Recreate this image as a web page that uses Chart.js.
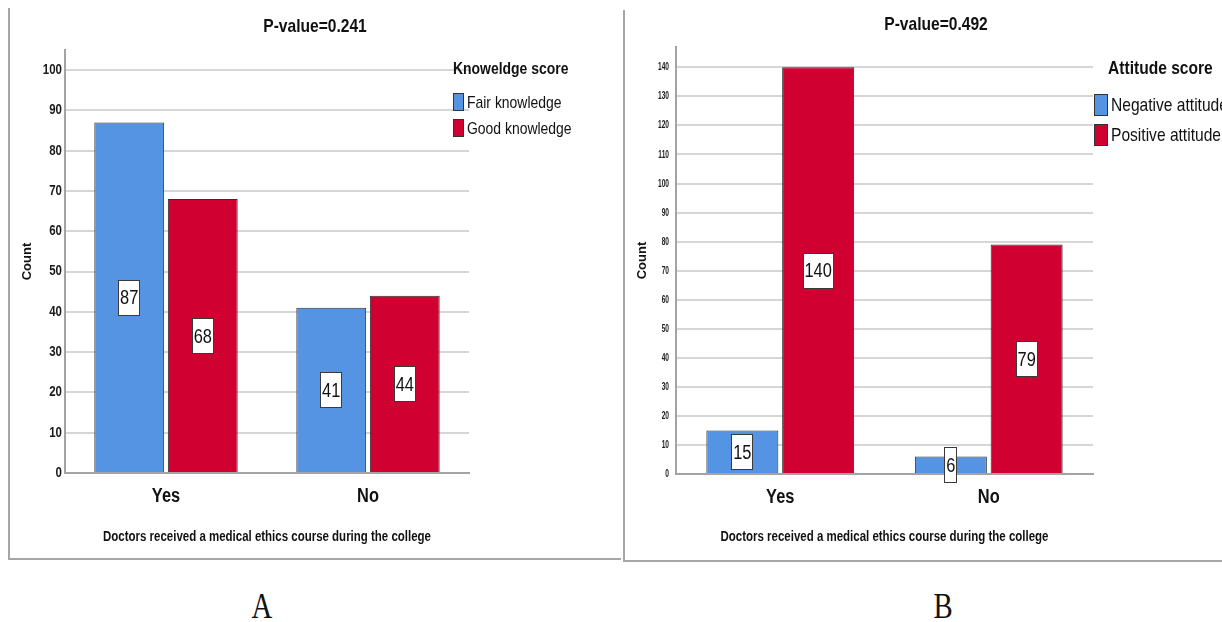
<!DOCTYPE html>
<html>
<head>
<meta charset="utf-8">
<title>Medical ethics course</title>
<script src="https://cdn.jsdelivr.net/npm/chart.js@4.4.1/dist/chart.umd.min.js"></script>
<style>
  body { margin: 0; width: 1222px; height: 622px; background: #fff; position: relative; overflow: hidden; }
  .frame { position: absolute; border-left: 2px solid #a6a6a6; border-bottom: 2px solid #a6a6a6; }
  canvas { position: absolute; }
  .tag { position: absolute; font-family: "Liberation Serif", "Times New Roman", serif; font-size: 36px; line-height: 36px; color: #111; transform: translateX(-50%) scaleX(0.8); }
</style>
</head>
<body>
<div class="frame" style="left:8px;top:8px;width:611px;height:550px"></div>
<div class="frame" style="left:623px;top:10px;width:599px;height:550px"></div>
<canvas id="chartA" width="610" height="556" style="left:10px;top:0"></canvas>
<canvas id="chartB" width="596" height="560" style="left:626px;top:0"></canvas>
<div class="tag" style="left:262px;top:588px">A</div>
<div class="tag" style="left:943px;top:588px">B</div>
<script>
// answers to "did you take a medical ethics course"
const courseAnswers = ["Yes", "No"]

const knowledgeLevels = ["Fair knowledge", "Good knowledge"]
const fairKnowledge = [87, 41]
const goodKnowledge = [68, 44]

const attitudeLevels = ["Negative attitude", "Positive attitude"]
const negativeAttitude = [15, 6]
const positiveAttitude = [140, 79]

// no Arial Narrow here, so "Narrow" text gets squeezed by hand (see squeezeText)
const NARROW = '"Arial Narrow", "Liberation Sans", sans-serif'
const WIDE = 'Arial, "Liberation Sans", sans-serif'
const SQUEEZE = 0.82
const BLUE = '#5593e3'
const RED = '#d00030'
const AXIS = '#a3a3a3'
const GRID = '#d6d6d6'

function squeezeFor(font) {
  if (!/Narrow/.test(font)) return 1
  const size = parseFloat((font.match(/([\d.]+)px/) || [0, 14])[1])
  // the tiny tick digits are even tighter
  return size < 12 ? 0.6 : SQUEEZE
}

function squeezeText(ctx) {
  const fill = ctx.fillText.bind(ctx)
  ctx.fillText = function (text, x, y, maxWidth) {
    const k = squeezeFor(ctx.font)
    if (k === 1) {
      return maxWidth === undefined ? fill(text, x, y) : fill(text, x, y, maxWidth)
    }
    ctx.save()
    ctx.translate(x, y)
    ctx.scale(k, 1)
    if (maxWidth === undefined) fill(text, 0, 0)
    else fill(text, 0, 0, maxWidth / k)
    ctx.restore()
  }
}

// value boxes, chart title and the legend block, SPSS style
const spssExtras = {
  id: 'spssExtras',
  beforeInit(chart) {
    squeezeText(chart.ctx)
  },
  afterDatasetsDraw(chart, args, opts) {
    const ctx = chart.ctx
    const yScale = chart.scales.y
    ctx.save()
    ctx.font = `${opts.valueSize}px ${NARROW}`
    ctx.textAlign = 'center'
    ctx.textBaseline = 'middle'
    const k = squeezeFor(ctx.font)
    chart.data.datasets.forEach((ds, i) => {
      chart.getDatasetMeta(i).data.forEach((bar, j) => {
        const v = ds.data[j]
        const text = String(v)
        const cy = yScale.getPixelForValue(v / 2)
        const w = Math.round(ctx.measureText(text).width * k + 4)
        const h = opts.boxHeight
        const left = Math.round(bar.x - w / 2)
        const top = Math.round(cy - h / 2)
        ctx.fillStyle = '#fff'
        ctx.fillRect(left, top, w, h)
        ctx.strokeStyle = '#3a3a3a'
        ctx.lineWidth = 1
        ctx.strokeRect(left + 0.5, top + 0.5, w - 1, h - 1)
        ctx.fillStyle = '#111'
        ctx.fillText(text, bar.x, cy + 1)
      })
    })
    ctx.restore()
  },
  afterDraw(chart, args, opts) {
    const ctx = chart.ctx
    ctx.save()
    ctx.fillStyle = '#111'
    ctx.textBaseline = 'middle'
    ctx.textAlign = 'center'
    ctx.font = `bold ${opts.titleSize}px ${NARROW}`
    ctx.fillText(opts.title, opts.titleX, opts.titleY)

    ctx.textAlign = 'left'
    ctx.font = `bold ${opts.legendTitleSize}px ${NARROW}`
    ctx.fillText(opts.legendTitle, opts.legendTitleX, opts.legendTitleY)
    chart.data.datasets.forEach((ds, i) => {
      const by = opts.legendY + i * opts.legendGap
      ctx.fillStyle = ds.backgroundColor
      ctx.fillRect(opts.legendX, by, opts.legendBoxW, opts.legendBoxH)
      ctx.strokeStyle = '#333'
      ctx.lineWidth = 1
      ctx.strokeRect(opts.legendX + 0.5, by + 0.5, opts.legendBoxW - 1, opts.legendBoxH - 1)
      ctx.fillStyle = '#111'
      ctx.font = `${opts.legendSize}px ${NARROW}`
      ctx.fillText(ds.label, opts.legendX + opts.legendBoxW + 3, by + opts.legendBoxH / 2 + 1)
    })
    ctx.restore()
  }
}

function buildChart(id, names, first, second, s) {
  new Chart(document.getElementById(id), {
    type: 'bar',
    data: {
      labels: courseAnswers,
      datasets: [
        { label: names[0], data: first, backgroundColor: BLUE },
        { label: names[1], data: second, backgroundColor: RED }
      ]
    },
    options: {
      responsive: false,
      animation: false,
      layout: { padding: { left: 0, right: s.padRight, top: s.padTop, bottom: 0 } },
      datasets: {
        bar: {
          borderColor: '#2e2e2e',
          borderWidth: 1,
          categoryPercentage: s.catPct,
          barPercentage: 0.95
        }
      },
      scales: {
        x: {
          grid: { display: false },
          border: { color: AXIS, width: 2 },
          ticks: { color: '#111', padding: 3, font: { family: NARROW, size: 20, weight: 'bold' } },
          title: {
            display: true,
            text: 'Doctors received a medical ethics course during the college',
            color: '#111',
            font: { family: NARROW, size: 14, weight: 'bold' },
            padding: { top: 0, bottom: s.xTitlePad }
          },
          afterFit: (scale) => { scale.height = s.xHeight }
        },
        y: {
          min: 0,
          max: s.yMax,
          grid: {
            color: (c) => (c.tick && c.tick.value === 0 ? AXIS : GRID),
            lineWidth: 2,
            drawTicks: false
          },
          border: { color: AXIS, width: 2 },
          ticks: {
            stepSize: 10,
            includeBounds: false,
            color: '#1a1a1a',
            padding: s.yTickPad,
            font: { family: NARROW, size: s.yTickSize, weight: 'bold' }
          },
          title: {
            display: true,
            text: 'Count',
            color: '#111',
            font: { family: WIDE, size: 13, weight: 'bold' },
            padding: { top: s.yTitlePad, bottom: 0 }
          },
          afterFit: (scale) => { scale.width = s.yWidth }
        }
      },
      plugins: {
        legend: { display: false },
        tooltip: { enabled: false },
        spssExtras: s.extras
      }
    },
    plugins: [spssExtras]
  })
}

buildChart('chartA', knowledgeLevels, fairKnowledge, goodKnowledge, {
  padRight: 151, padTop: 50, yMax: 105, yWidth: 55, xHeight: 83,
  catPct: 0.728, yTickPad: 3, yTickSize: 14, yTitlePad: 10, xTitlePad: 10,
  extras: {
    valueSize: 20, boxHeight: 36,
    title: 'P-value=0.241', titleSize: 19, titleX: 305, titleY: 27,
    legendTitle: 'Knoweldge score', legendTitleSize: 17, legendTitleX: 443, legendTitleY: 69,
    legendSize: 17, legendX: 443, legendY: 93, legendGap: 26, legendBoxW: 11, legendBoxH: 18
  }
})

buildChart('chartB', attitudeLevels, negativeAttitude, positiveAttitude, {
  padRight: 129, padTop: 47, yMax: 147, yWidth: 50, xHeight: 86,
  catPct: 0.727, yTickPad: 7, yTickSize: 11, yTitlePad: 9, xTitlePad: 14,
  extras: {
    valueSize: 20, boxHeight: 36,
    title: 'P-value=0.492', titleSize: 19, titleX: 310, titleY: 25,
    legendTitle: 'Attitude score', legendTitleSize: 19, legendTitleX: 482, legendTitleY: 69,
    legendSize: 19, legendX: 468, legendY: 94, legendGap: 30, legendBoxW: 14, legendBoxH: 22
  }
})
</script>
</body>
</html>
